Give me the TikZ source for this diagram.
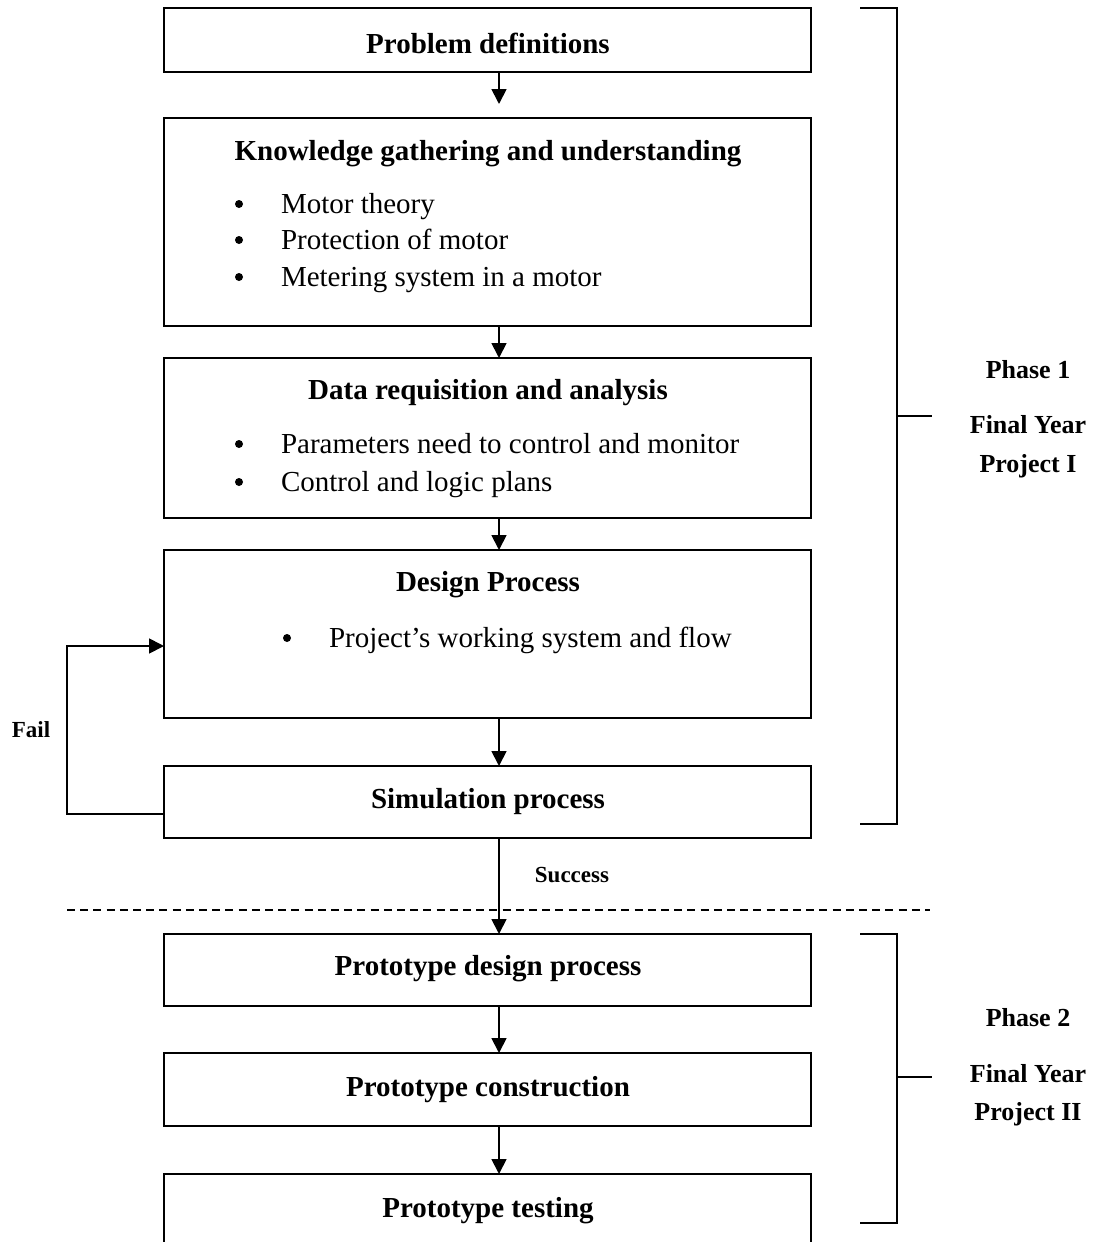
\documentclass[tikz,border=0pt]{standalone}
\usepackage{fontspec}
\setmainfont{Liberation Serif}
\usetikzlibrary{arrows.meta}
\begin{document}
\begin{tikzpicture}[x=0.5pt,y=-0.5pt,
  every node/.style={inner sep=0pt, outer sep=0pt},
  box/.style={draw, line width=0.9pt, anchor=north west, minimum width=323.5pt},
  ttl/.style={font=\fontsize{14.5}{17}\selectfont\bfseries},
  itm/.style={font=\fontsize{14.5}{17}\selectfont, anchor=base west},
  bul/.style={circle, fill, minimum size=4pt},
  lbl/.style={font=\fontsize{11.5}{14}\selectfont\bfseries},
  phase/.style={font=\fontsize{13}{16}\selectfont\bfseries},
  arr/.style={line width=0.9pt, -{Triangle[length=7.5pt,width=7.5pt]}},
  brk/.style={line width=0.9pt},
  divider/.style={line width=0.8pt, dash pattern=on 4pt off 2.6pt}
]
\clip (0,0) rectangle (1104,1242);
\fill[white] (0,0) rectangle (1104,1242);

% boxes
\node[box, minimum height=32pt]  (b1) at (164,8) {};
\node[box, minimum height=104pt] (b2) at (164,118) {};
\node[box, minimum height=80pt]  (b3) at (164,358) {};
\node[box, minimum height=84pt]  (b4) at (164,550) {};
\node[box, minimum height=36pt]  (b5) at (164,766) {};
\node[box, minimum height=36pt]  (b6) at (164,934) {};
\node[box, minimum height=36.5pt](b7) at (164,1053) {};
\node[box, minimum height=45pt]  (b8) at (164,1174) {};

% texts
\node[ttl] (t1) at (488,43) {Problem definitions};
\node[ttl] (t2) at (488,154) {Knowledge gathering and understanding};
\node[bul] (d21) at (239,204) {};
\node[itm] (i21) at (281,213) {Motor theory};
\node[bul] (d22) at (239,240) {};
\node[itm] (i22) at (281,249) {Protection of motor};
\node[bul] (d23) at (239,277) {};
\node[itm] (i23) at (281,286) {Metering system in a motor};

\node[ttl] (t3) at (488,393) {Data requisition and analysis};
\node[bul] (d31) at (239,444) {};
\node[itm] (i31) at (281,453) {Parameters need to control and monitor};
\node[bul] (d32) at (239,482) {};
\node[itm] (i32) at (281,491) {Control and logic plans};

\node[ttl] (t4) at (488,585) {Design Process};
\node[bul] (d41) at (287,638) {};
\node[itm] (i41) at (329,647) {Project’s working system and flow};

\node[ttl] (t5) at (488,802) {Simulation process};
\node[ttl] (t6) at (488,969) {Prototype design process};
\node[ttl] (t7) at (488,1090) {Prototype construction};
\node[ttl] (t8) at (488,1211) {Prototype testing};

% connectors
\coordinate (ax) at (499,0);
\draw[arr, shorten >=7pt] (b1.south -| ax) -- (b2.north -| ax);
\draw[arr] (b2.south -| ax) -- (b3.north -| ax);
\draw[arr] (b3.south -| ax) -- (b4.north -| ax);
\draw[arr] (b4.south -| ax) -- (b5.north -| ax);

% dashed divider
\coordinate (dl) at (67,910);
\coordinate (dr) at (930,910);
\draw[divider] (dl) -- (dr);

\draw[arr] (b5.south -| ax) -- (b6.north -| ax);
\draw[arr] (b6.south -| ax) -- (b7.north -| ax);
\draw[arr] (b7.south -| ax) -- (b8.north -| ax);

% fail loop
\coordinate (fx) at (67,730);
\draw[arr] ([yshift=-6pt]b5.west) -| (fx) |- ([yshift=-6pt]b4.west);
\node[lbl] (fail) at (31,730) {Fail};
\node[lbl] (succ) at (572,875) {Success};

% brackets
\draw[brk] (860,8) -- (897,8) -- (897,824) -- (860,824);
\draw[brk] (897,416) -- (932,416);
\draw[brk] (860,934) -- (897,934) -- (897,1223) -- (860,1223);
\draw[brk] (897,1077) -- (932,1077);

\node[phase] (p1a) at (1028,370) {Phase 1};
\node[phase] (p1b) at (1028,425) {Final Year};
\node[phase] (p1c) at (1028,466) {Project I};
\node[phase] (p2a) at (1028,1018) {Phase 2};
\node[phase] (p2b) at (1028,1074) {Final Year};
\node[phase] (p2c) at (1028,1114) {Project II};
\end{tikzpicture}
\end{document}
